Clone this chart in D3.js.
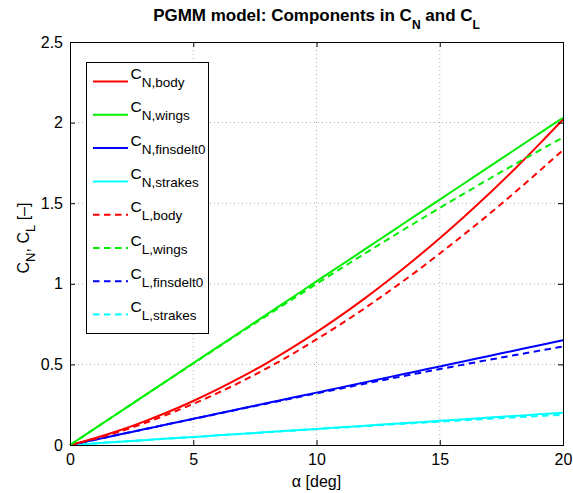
<!DOCTYPE html>
<html><head><meta charset="utf-8">
<script src="https://cdn.jsdelivr.net/npm/d3@7"></script>
<style>body{margin:0;background:#fff}svg{display:block}text{font-family:"Liberation Sans",Arial,sans-serif}</style>
</head><body><svg id="c" width="573" height="493"></svg>
<script>
const alpha = [0,1,2,3,4,5,6,7,8,9,10,11,12,13,14,15,16,17,18,19,20];
const cnBody = [0,0.042,0.090,0.145,0.206,0.273,0.346,0.425,0.510,0.602,0.700,0.804,0.914,1.031,1.154,1.283,1.418,1.559,1.706,1.860,2.020];
const cnWings = [0,0.1015,0.203,0.3045,0.406,0.5075,0.609,0.7105,0.812,0.9135,1.015,1.1165,1.218,1.3195,1.421,1.5225,1.624,1.7255,1.827,1.9285,2.030];
const cnFins = [0,0.0325,0.065,0.0975,0.13,0.1625,0.195,0.2275,0.26,0.2925,0.325,0.3575,0.39,0.4225,0.455,0.4875,0.52,0.5525,0.585,0.6175,0.65];
const cnStrakes = [0,0.01,0.02,0.03,0.04,0.05,0.06,0.07,0.08,0.09,0.10,0.11,0.12,0.13,0.14,0.15,0.16,0.17,0.18,0.19,0.20];
const clBody = [0,0.038,0.083,0.134,0.192,0.255,0.323,0.397,0.477,0.563,0.655,0.751,0.853,0.960,1.071,1.188,1.308,1.432,1.561,1.694,1.830];
const clWings = [0,0.1015,0.2029,0.3041,0.4050,0.5056,0.6057,0.7052,0.8041,0.9023,0.9996,1.0960,1.1914,1.2857,1.3788,1.4706,1.5611,1.6501,1.7376,1.8234,1.9076];
const clFins = [0,0.0325,0.0650,0.0974,0.1297,0.1619,0.1939,0.2258,0.2575,0.2889,0.3201,0.3509,0.3815,0.4117,0.4415,0.4709,0.4999,0.5284,0.5564,0.5839,0.6108];
const clStrakes = [0,0.01,0.020,0.030,0.0399,0.0498,0.0597,0.0695,0.0792,0.0889,0.0985,0.1080,0.1174,0.1267,0.1358,0.1449,0.1538,0.1626,0.1712,0.1796,0.1879];
const xTicks = [0,5,10,15,20];
const yTicks = [0,0.5,1,1.5,2,2.5];
const yTickLabels = ["0","0.5","1","1.5","2","2.5"];
const seriesNames = [["N","body"],["N","wings"],["N","finsdelt0"],["N","strakes"],["L","body"],["L","wings"],["L","finsdelt0"],["L","strakes"]];
const seriesColors = ["#ff0000","#00ee00","#0000ff","#00ffff","#ff0000","#00ee00","#0000ff","#00ffff"];
const seriesDashed = [false,false,false,false,true,true,true,true];
const seriesValues = [cnBody,cnWings,cnFins,cnStrakes,clBody,clWings,clFins,clStrakes];

const svg = d3.select("#c");
const L=70,R=563,T=42,B=445;
const x = d3.scaleLinear().domain([0,20]).range([L,R]);
const y = d3.scaleLinear().domain([0,2.5]).range([B,T]);
const DASH = "6.5,4.5";

// grid
const g = svg.append("g");
g.selectAll(".gx").data(xTicks.slice(1,-1)).enter().append("line")
 .attr("x1",d=>x(d)).attr("x2",d=>x(d)).attr("y1",T).attr("y2",B)
 .attr("stroke","#b0b0b0").attr("stroke-width",1).attr("stroke-dasharray","1,3");
g.selectAll(".gy").data(yTicks.slice(1,-1)).enter().append("line")
 .attr("x1",L).attr("x2",R).attr("y1",d=>y(d)).attr("y2",d=>y(d))
 .attr("stroke","#b0b0b0").attr("stroke-width",1).attr("stroke-dasharray","1,3");

// lines
const line = d3.line().x((d,i)=>x(alpha[i])).y(d=>y(d)).curve(d3.curveMonotoneX);
const order=[3,7,2,6,0,4,1,5];
order.forEach(i=>{
  svg.append("path").attr("d",line(seriesValues[i])).attr("fill","none")
   .attr("stroke",seriesColors[i]).attr("stroke-width",2)
   .attr("stroke-dasharray",seriesDashed[i]?DASH:null);
});

// axes
const axB = d3.axisBottom(x).tickValues(xTicks).tickSize(-5).tickPadding(9).tickFormat(d3.format("d"));
const axT = d3.axisTop(x).tickValues(xTicks).tickSize(-5).tickFormat("");
const axL = d3.axisLeft(y).tickValues(yTicks).tickSize(-5).tickPadding(7).tickFormat((d,i)=>yTickLabels[i]);
const axR = d3.axisRight(y).tickValues(yTicks).tickSize(-5).tickFormat("");
function style(s){s.select(".domain").attr("stroke","#000").attr("stroke-width",1);
 s.selectAll(".tick line").attr("stroke","#000");
 s.selectAll("text").attr("font-size",16).attr("fill","#000").attr("font-family","Liberation Sans, Arial, sans-serif");}
svg.append("g").attr("transform",`translate(0,${B})`).call(axB).call(style);
svg.append("g").attr("transform",`translate(0,${T})`).call(axT).call(style);
svg.append("g").attr("transform",`translate(${L},0)`).call(axL).call(style);
svg.append("g").attr("transform",`translate(${R},0)`).call(axR).call(style);

// title
const t = svg.append("text").attr("x",(L+R)/2).attr("y",21).attr("text-anchor","middle")
  .attr("font-size",17).attr("font-weight","bold");
t.append("tspan").text("PGMM model: Components in C");
t.append("tspan").attr("dy",7.5).attr("font-size",12).text("N");
t.append("tspan").attr("dy",-7.5).text(" and C");
t.append("tspan").attr("dy",7.5).attr("font-size",12).text("L");

// x label
svg.append("text").attr("x",(L+R)/2).attr("y",487).attr("text-anchor","middle").attr("font-size",16).text("α [deg]");
// y label
const yl = svg.append("text").attr("transform",`translate(29,238) rotate(-90)`).attr("text-anchor","middle").attr("font-size",16);
yl.append("tspan").text("C");
yl.append("tspan").attr("dy",6).attr("font-size",13).text("N");
yl.append("tspan").attr("dy",-6).text(", C");
yl.append("tspan").attr("dy",6).attr("font-size",13).text("L");
yl.append("tspan").attr("dy",-6).text(" [–]");

// legend
const lg = svg.append("g");
lg.append("rect").attr("x",86.5).attr("y",62.5).attr("width",122).attr("height",271)
 .attr("fill","#fff").attr("stroke","#000").attr("stroke-width",1);
seriesNames.forEach((n,i)=>{
  const cy = 81.5 + i*33.3;
  lg.append("line").attr("x1",93).attr("x2",128).attr("y1",cy).attr("y2",cy)
   .attr("stroke",seriesColors[i]).attr("stroke-width",2).attr("stroke-dasharray",seriesDashed[i]?DASH:null);
  const tx = lg.append("text").attr("x",130.5).attr("y",cy-2.4).attr("font-size",15.5);
  tx.append("tspan").text("C");
  tx.append("tspan").attr("dy",8).attr("font-size",13.5).text(n[0]+","+n[1]);
});
</script></body></html>
